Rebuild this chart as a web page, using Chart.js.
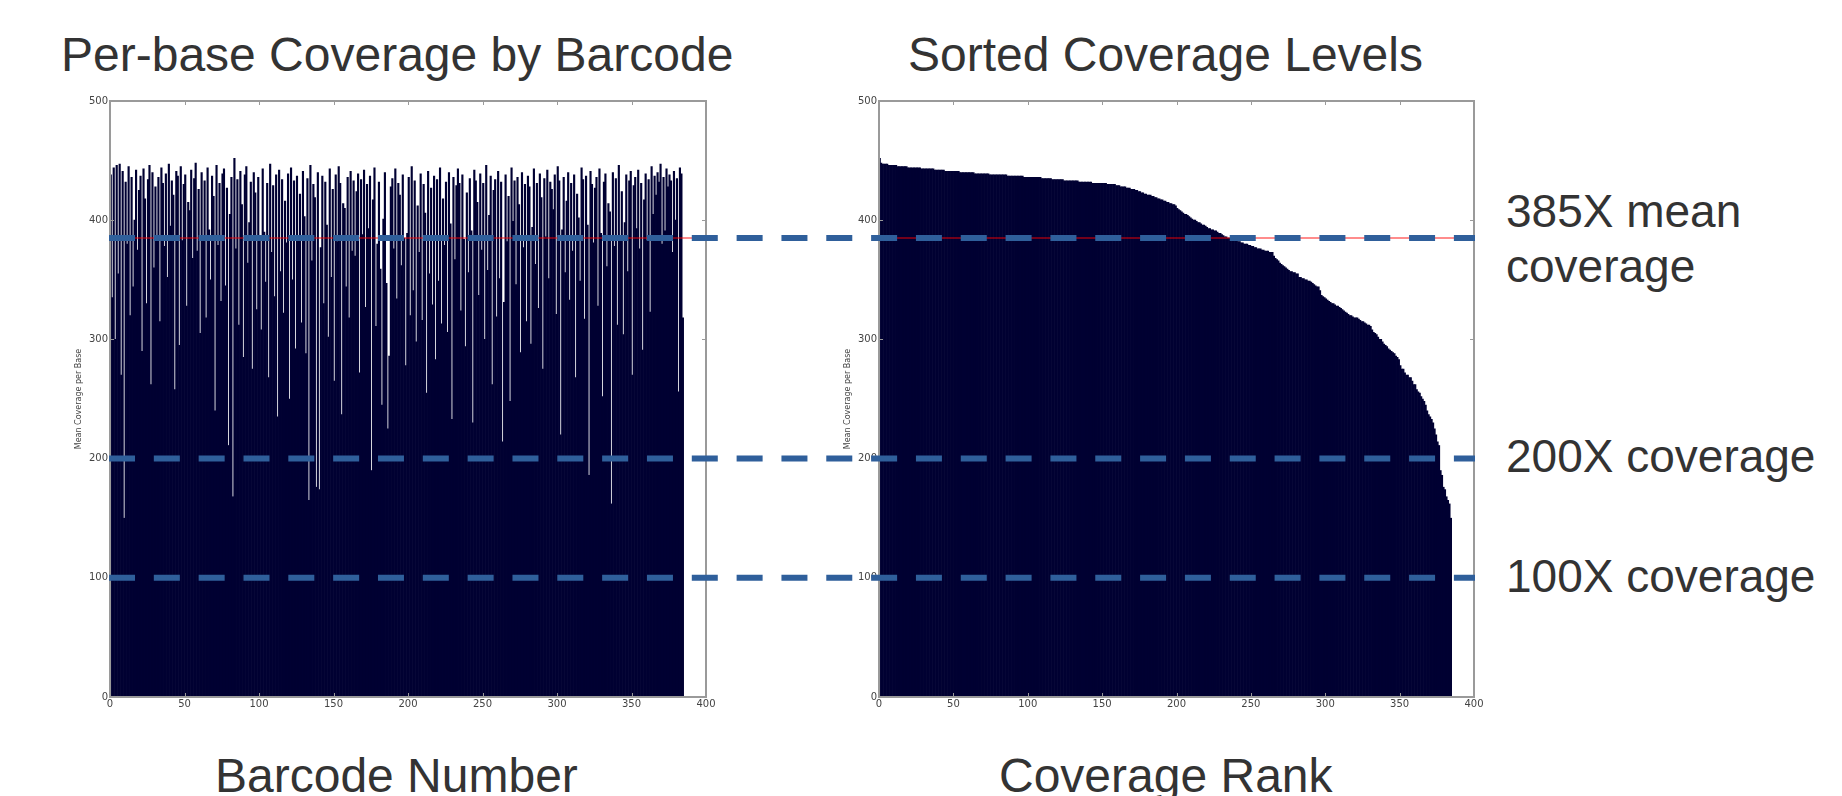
<!DOCTYPE html>
<html>
<head>
<meta charset="utf-8">
<script src="https://cdn.jsdelivr.net/npm/chart.js@4.4.1/dist/chart.umd.min.js"></script>
<style>
body { margin: 0; width: 1842px; height: 796px; background: #fff; position: relative; overflow: hidden;
       font-family: "Liberation Sans", Arial, sans-serif; color: #333; }
.box { position: absolute; }
.lbl { position: absolute; white-space: nowrap; line-height: 1; }
.big { font-size: 48px; }
.side { font-size: 46px; }
#overlay { position: absolute; left: 0; top: 0; pointer-events: none; }
</style>
</head>
<body>
<div class="lbl big" style="left:61px; top:31px;">Per-base Coverage by Barcode</div>
<div class="lbl big" style="left:908px; top:31px;">Sorted Coverage Levels</div>
<div class="lbl big" style="left:215px; top:752px;">Barcode Number</div>
<div class="lbl big" style="left:999px; top:752px;">Coverage Rank</div>
<div class="lbl side" style="left:1506px; top:188px;">385X mean</div>
<div class="lbl side" style="left:1506px; top:243px;">coverage</div>
<div class="lbl side" style="left:1506px; top:433px;">200X coverage</div>
<div class="lbl side" style="left:1506px; top:553px;">100X coverage</div>

<div class="box" style="left:70px; top:91px;"><canvas id="byBarcode" width="650" height="640"></canvas></div>
<div class="box" style="left:839px; top:91px;"><canvas id="sorted" width="650" height="640"></canvas></div>
<canvas id="overlay" width="1842" height="796"></canvas>

<script>
// mean coverage per base for each of the 385 barcodes
var coverageByBarcode = [
  438, 335, 444, 300, 446, 355, 447, 270, 441, 150,
  432, 380, 445, 320, 436, 344, 400, 442, 375, 425,
  437, 290, 443, 418, 330, 434, 446, 262, 440, 360,
  428, 385, 436, 315, 444, 431, 378, 439, 352, 447,
  395, 433, 421, 258, 441, 437, 295, 445, 383, 430,
  438, 328, 415, 408, 442, 368, 435, 448, 374, 426,
  305, 440, 387, 433, 318, 444, 392, 350, 437, 420,
  240, 446, 379, 431, 332, 439, 443, 345, 427, 211,
  405, 436, 168, 452, 376, 434, 312, 441, 413, 285,
  438, 445, 364, 398, 432, 275, 440, 423, 325, 436,
  384, 308, 443, 390, 348, 431, 268, 447, 373, 429,
  336, 438, 235, 442, 357, 434, 322, 416, 381, 439,
  250, 444, 350, 433, 292, 437, 386, 422, 314, 441,
  403, 288, 435, 165, 446, 366, 430, 419, 176, 440,
  174, 377, 437, 330, 432, 396, 302, 443, 352, 426,
  265, 438, 382, 445, 431, 237, 414, 410, 344, 436,
  318, 441, 374, 433, 370, 424, 439, 272, 434, 388,
  442, 327, 430, 393, 437, 190, 417, 444, 311, 380,
  432, 359, 245, 401, 440, 347, 225, 286, 428, 435,
  376, 443, 334, 431, 421, 362, 438, 385, 278, 389,
  436, 320, 445, 341, 433, 298, 412, 373, 439, 316,
  430, 406, 255, 441, 355, 427, 329, 437, 283, 434,
  349, 444, 313, 418, 379, 432, 306, 440, 397, 233,
  436, 367, 429, 443, 431, 324, 438, 384, 294, 423,
  356, 435, 391, 230, 442, 433, 415, 337, 439, 375,
  431, 300, 446, 358, 404, 437, 262, 425, 434, 319,
  441, 351, 432, 214, 331, 438, 382, 420, 248, 444,
  399, 433, 346, 436, 413, 289, 440, 377, 430, 315,
  437, 428, 296, 394, 443, 363, 431, 326, 439, 419,
  275, 435, 386, 442, 351, 432, 426, 409, 438, 321,
  445, 433, 220, 392, 436, 356, 416, 440, 333, 431,
  374, 438, 268, 422, 402, 349, 444, 434, 317, 437,
  396, 186, 441, 430, 381, 427, 436, 328, 443, 389,
  252, 432, 439, 361, 414, 407, 162, 440, 378, 435,
  312, 446, 385, 424, 304, 398, 438, 357, 433, 441,
  270, 429, 436, 393, 442, 376, 431, 291, 417, 439,
  383, 434, 323, 445, 405, 437, 421, 440, 432, 447,
  380, 436, 391, 443, 428, 438, 433, 373, 441, 400,
  435, 256, 444, 439, 318
];
// right panel is the same numbers ranked high to low
var sortedCoverage = coverageByBarcode.slice().sort(function (a, b) { return b - a; });

var meanCoverage = 385;
var coverageLevels = [385, 200, 100];
var xTicks = [0, 50, 100, 150, 200, 250, 300, 350, 400];
var yTicks = [0, 100, 200, 300, 400, 500];

var barColor = '#000032';
var frameColor = '#9a9a9a';
var tickFont = { family: 'DejaVu Sans', size: 10 };

// matplotlib-ish box: red mean line, grey frame, ticks pointing inwards
var mplFrame = {
  id: 'mplFrame',
  afterDatasetsDraw: function (chart) {
    var c = chart.ctx, a = chart.chartArea, ys = chart.scales.y, xs = chart.scales.x;
    c.save();
    var ym = ys.getPixelForValue(meanCoverage);
    c.strokeStyle = 'rgba(255, 0, 0, 0.45)';
    c.lineWidth = 2;
    c.beginPath(); c.moveTo(a.left, ym); c.lineTo(a.right, ym); c.stroke();

    c.strokeStyle = frameColor;
    c.lineWidth = 2;
    c.strokeRect(a.left, a.top, a.right - a.left, a.bottom - a.top);
    c.lineWidth = 1;
    c.beginPath();
    xTicks.forEach(function (t) {
      var x = Math.round(xs.getPixelForValue(t)) + 0.5;
      c.moveTo(x, a.bottom); c.lineTo(x, a.bottom - 4);
      c.moveTo(x, a.top); c.lineTo(x, a.top + 4);
    });
    yTicks.forEach(function (t) {
      var y = Math.round(ys.getPixelForValue(t)) + 0.5;
      c.moveTo(a.left, y); c.lineTo(a.left + 4, y);
      c.moveTo(a.right, y); c.lineTo(a.right - 4, y);
    });
    c.stroke();
    c.restore();
  }
};

function makeChart(id, values, rightPad) {
  var pts = values.map(function (v, i) { return { x: i + 0.5, y: v }; });
  return new Chart(document.getElementById(id), {
    type: 'bar',
    data: {
      datasets: [{
        data: pts,
        backgroundColor: barColor,
        borderWidth: 0,
        barPercentage: 1,
        categoryPercentage: 1
      }]
    },
    options: {
      responsive: false,
      animation: false,
      layout: { padding: { top: 10, right: rightPad, left: 0, bottom: 0 } },
      plugins: { legend: { display: false }, tooltip: { enabled: false } },
      scales: {
        x: {
          type: 'linear', min: 0, max: 400, offset: false,
          afterBuildTicks: function (s) { s.ticks = xTicks.map(function (v) { return { value: v }; }); },
          ticks: { color: '#444', font: tickFont, padding: 1, maxRotation: 0, autoSkip: false },
          grid: { display: false, drawTicks: false, offset: false },
          border: { display: false },
          afterFit: function (s) { s.height = 34; }
        },
        y: {
          min: 0, max: 500,
          afterBuildTicks: function (s) { s.ticks = yTicks.map(function (v) { return { value: v }; }); },
          ticks: { color: '#444', font: tickFont, padding: 2 },
          grid: { display: false, drawTicks: false },
          border: { display: false },
          title: { display: true, text: 'Mean Coverage per Base', color: '#444',
                   font: { family: 'DejaVu Sans', size: 8 }, padding: { top: 4, bottom: 2 } },
          afterFit: function (s) { s.width = 40; }
        }
      }
    },
    plugins: [mplFrame]
  });
}

var left = makeChart('byBarcode', coverageByBarcode, 14);
var right = makeChart('sorted', sortedCoverage, 15);

// long blue dashed guide lines running across both panels
var ov = document.getElementById('overlay').getContext('2d');
var lBox = left.canvas.getBoundingClientRect();
var rBox = right.canvas.getBoundingClientRect();
var x0 = lBox.left + left.chartArea.left - 1;
var x1 = rBox.left + right.chartArea.right + 1;
ov.strokeStyle = '#2f5f9b';
ov.lineWidth = 6;
ov.setLineDash([26, 18.83]);
coverageLevels.forEach(function (v) {
  var y = lBox.top + left.scales.y.getPixelForValue(v);
  ov.beginPath();
  ov.moveTo(x0, y);
  ov.lineTo(x1, y);
  ov.stroke();
});
</script>
</body>
</html>
